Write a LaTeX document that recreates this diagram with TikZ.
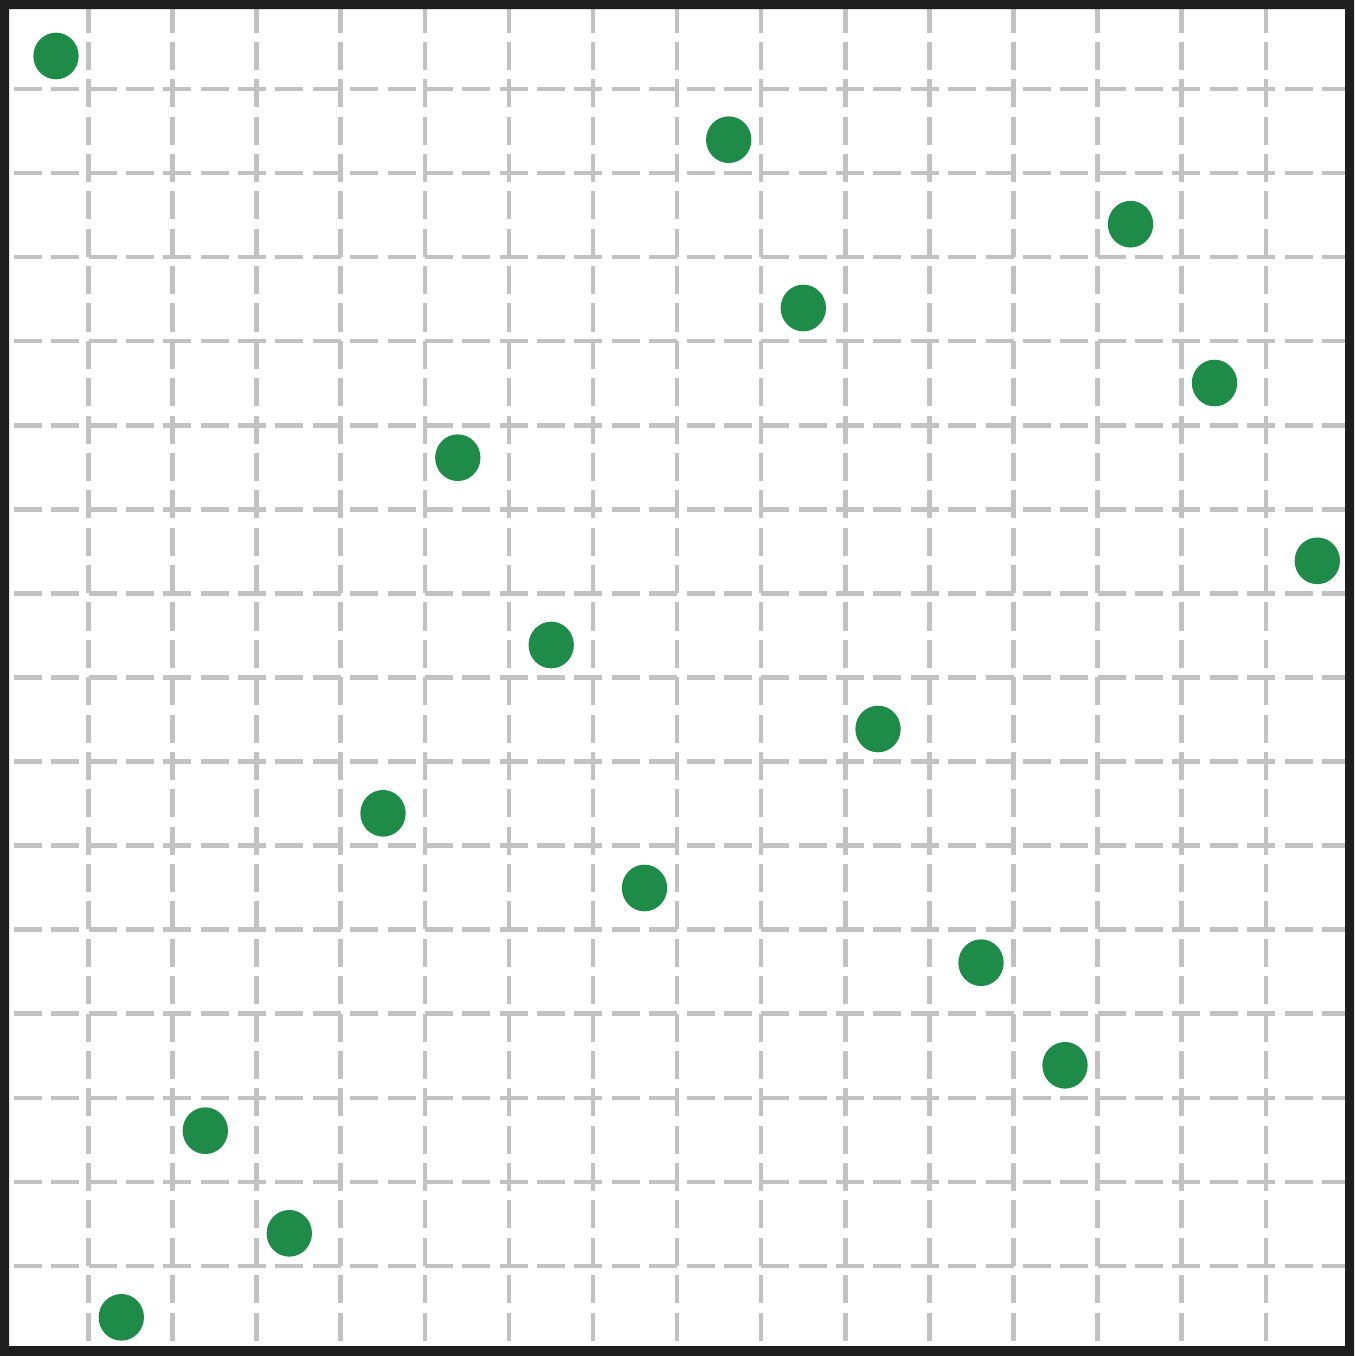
\documentclass[tikz,border=0pt]{standalone}
\usetikzlibrary{shapes.geometric}
\definecolor{dotgreen}{HTML}{1F8B48}
\definecolor{gridgray}{HTML}{C2C2C2}
\definecolor{framecol}{HTML}{1E1E1E}
\tikzset{
  gridv/.style={draw=gridgray, line width=3.4pt, dash pattern=on 21.02pt off 7.01pt},
  gridh/.style={draw=gridgray, line width=3.4pt, dash pattern=on 21.02pt off 7.01pt, dash phase=21.02pt},
  dot/.style={ellipse, fill=dotgreen, draw=none, inner sep=0pt, minimum width=34pt, minimum height=35pt},
}
\begin{document}
\begin{tikzpicture}[x=0.75pt, y=-0.75pt]
\useasboundingbox (0,0) rectangle (1354,1356);
\fill[white] (0,0) rectangle (1354,1356);
% grid
\foreach \k in {1,...,15}{
  \pgfmathsetmacro{\xx}{4.4+84.09*\k}
  \draw[gridv] (\xx,4.5) -- (\xx,1351);
  \pgfmathsetmacro{\yy}{4.9+84.07*\k}
  \draw[gridh] (4.5,\yy) -- (1349.5,\yy);
}
% dots
\node[dot] (d1) at (56,56) {};
\node[dot] (d2) at (728.7,139.7) {};
\node[dot] (d3) at (1130.5,224.2) {};
\node[dot] (d4) at (803.3,308) {};
\node[dot] (d5) at (1214.5,383) {};
\node[dot] (d6) at (457.8,457.7) {};
\node[dot] (d7) at (1317.3,560.8) {};
\node[dot] (d8) at (551.2,645) {};
\node[dot] (d9) at (878,729) {};
\node[dot] (d10) at (383,813.3) {};
\node[dot] (d11) at (644.5,888) {};
\node[dot] (d12) at (981,962.7) {};
\node[dot] (d13) at (1065,1065.3) {};
\node[dot] (d14) at (205.3,1130.7) {};
\node[dot] (d15) at (289.3,1233.3) {};
\node[dot] (d16) at (121.3,1317.3) {};
% frame
\fill[framecol, even odd rule] (0,0) rectangle (1354,1356) (9,9) rectangle (1345,1346);
\end{tikzpicture}
\end{document}
